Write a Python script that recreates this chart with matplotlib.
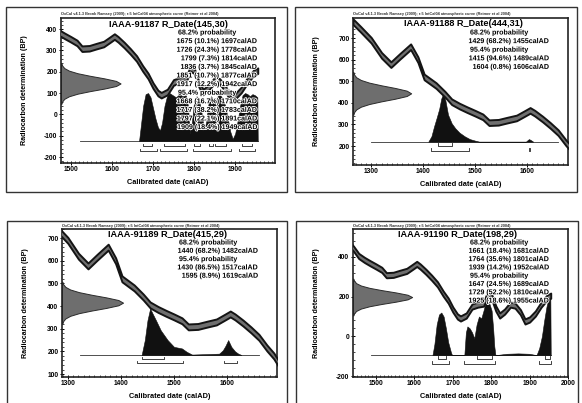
import matplotlib
matplotlib.use('Agg')
import matplotlib.pyplot as plt
import matplotlib.patheffects as pe
from matplotlib.patches import Rectangle
from matplotlib.lines import Line2D
from matplotlib.ticker import MultipleLocator

W, H = 582, 403

plt.rcParams['font.family'] = ['Liberation Sans Narrow', 'Liberation Sans', 'DejaVu Sans']
plt.rcParams['font.weight'] = 'bold'
plt.rcParams['axes.unicode_minus'] = False

header = "OxCal v4.1.3 Bronk Ramsey (2009); r:5 IntCal04 atmospheric curve (Reimer et al 2004)"

# IntCal04 curve (calAD, BP)
cal_year = [1265, 1280, 1300, 1320, 1338, 1355, 1376, 1390, 1402, 1425,
            1442, 1455, 1470, 1485, 1500, 1515, 1527, 1545, 1562, 1580,
            1595, 1606, 1615, 1630, 1645, 1660, 1675, 1688, 1700, 1712,
            1720, 1735, 1750, 1765, 1780, 1792, 1800, 1812, 1822, 1835,
            1850, 1862, 1876, 1888, 1900, 1915, 1930, 1945, 1955]
cal_bp = [776, 740, 690, 620, 577, 615, 660, 600, 520, 480,
          440, 405, 385, 368, 352, 335, 308, 310, 320, 330,
          350, 365, 352, 325, 295, 262, 215, 180, 135, 100,
          90, 105, 150, 160, 165, 215, 205, 140, 105, 125,
          160, 155, 122, 75, 85, 115, 160, 195, 205]
cal_err = 13

# shape of the R_Date curve on the y axis (offset in sigma, relative width)
gauss_z = [-3.2, -2.8, -2.4, -2.0, -1.6, -1.2, -0.8, -0.4, 0,
           0.4, 0.8, 1.2, 1.6, 2.0, 2.4, 2.8, 3.2]
gauss_w = [0.006, 0.02, 0.056, 0.135, 0.278, 0.487, 0.726, 0.923, 1.0,
           0.923, 0.726, 0.487, 0.278, 0.135, 0.056, 0.02, 0.006]

# ---- IAAA-91187
p1_title = "IAAA-91187 R_Date(145,30)"
p1_rdate, p1_sigma = 145, 30
p1_lines = ["68.2% probability",
            "1675 (10.1%) 1697calAD",
            "1726 (24.3%) 1778calAD",
            "1799 (7.3%) 1814calAD",
            "1836 (3.7%) 1845calAD",
            "1851 (10.7%) 1877calAD",
            "1917 (12.2%) 1942calAD",
            "95.4% probability",
            "1668 (16.7%) 1710calAD",
            "1717 (38.2%) 1783calAD",
            "1797 (22.1%) 1891calAD",
            "1909 (18.4%) 1949calAD"]
p1_r68 = [(1675, 1697), (1726, 1778), (1799, 1814), (1836, 1845), (1851, 1877), (1917, 1942)]
p1_r95 = [(1668, 1710), (1717, 1783), (1797, 1891), (1909, 1949)]
p1_dens_year = [1666, 1670, 1676, 1682, 1688, 1694, 1700, 1706, 1712, 1717,
                1722, 1728, 1734, 1740, 1748, 1756, 1764, 1772, 1780, 1785,
                1790, 1795, 1800, 1806, 1812, 1818, 1824, 1829, 1835, 1841,
                1848, 1855, 1862, 1869, 1876, 1882, 1888, 1894, 1900, 1906,
                1912, 1918, 1924, 1930, 1936, 1942, 1948, 1954, 1955]
p1_dens_top = [-125, -60, 40, 95, 100, 80, 30, -20, -60, -75,
               -40, 40, 85, 100, 90, 80, 95, 85, 90, 40,
               -90, -30, 60, 85, 70, 10, -70, -40, 50, 85,
               70, 80, 95, 75, 40, -20, -80, -115, -90, -30,
               40, 90, 100, 95, 85, 95, 90, 80, -125]

# ---- IAAA-91188
p2_title = "IAAA-91188 R_Date(444,31)"
p2_rdate, p2_sigma = 444, 31
p2_lines = ["68.2% probability",
            "1429 (68.2%) 1455calAD",
            "95.4% probability",
            "1415 (94.6%) 1489calAD",
            "1604 (0.8%) 1606calAD"]
p2_r68 = [(1429, 1455)]
p2_r95 = [(1415, 1489), (1604, 1606)]
p2_dens_year = [1410, 1416, 1421, 1426, 1431, 1435, 1439, 1443, 1448, 1455,
                1462, 1470, 1480, 1490, 1500, 1508, 1598, 1602, 1604, 1607, 1612]
p2_dens_top = [220, 245, 290, 330, 372, 420, 444, 410, 345, 305,
               282, 262, 245, 232, 225, 220, 220, 229, 232, 228, 220]

# ---- IAAA-91189
p3_title = "IAAA-91189 R_Date(415,29)"
p3_rdate, p3_sigma = 415, 29
p3_lines = ["68.2% probability",
            "1440 (68.2%) 1482calAD",
            "95.4% probability",
            "1430 (86.5%) 1517calAD",
            "1595 (8.9%) 1619calAD"]
p3_r68 = [(1440, 1482)]
p3_r95 = [(1430, 1517), (1595, 1619)]
p3_dens_year = [1439, 1445, 1450, 1455, 1460, 1466, 1475, 1488, 1500, 1515,
                1524, 1534, 1560, 1585, 1592, 1597, 1602, 1608, 1615, 1621, 1627]
p3_dens_top = [184, 250, 337, 389, 365, 337, 293, 250, 220, 213,
               198, 186, 188, 190, 205, 225, 250, 220, 200, 190, 184]

# ---- IAAA-91190
p4_title = "IAAA-91190 R_Date(198,29)"
p4_rdate, p4_sigma = 198, 29
p4_lines = ["68.2% probability",
            "1661 (18.4%) 1681calAD",
            "1764 (35.6%) 1801calAD",
            "1939 (14.2%) 1952calAD",
            "95.4% probability",
            "1647 (24.5%) 1689calAD",
            "1729 (52.2%) 1810calAD",
            "1925 (18.6%) 1955calAD"]
p4_r68 = [(1661, 1681), (1764, 1801), (1939, 1952)]
p4_r95 = [(1647, 1689), (1729, 1810), (1925, 1955)]
p4_dens_year = [1647, 1652, 1658, 1664, 1670, 1676, 1682, 1688, 1695, 1698,
                1730, 1734, 1738, 1744, 1750, 1756, 1762, 1768, 1774, 1780,
                1786, 1791, 1796, 1801, 1805, 1808, 1811, 1840, 1870, 1900,
                1918, 1925, 1932, 1938, 1944, 1950, 1954, 1955]
p4_dens_top = [-95, -40, 60, 110, 120, 100, 40, -30, -80, -95,
               -95, 20, 50, 40, 20, -10, 60, 100, 90, 130,
               175, 190, 160, 130, 40, -50, -95, -88, -86, -88,
               -95, -60, 0, 80, 150, 195, 200, -95]

panels = [
    dict(frame=(61, 18, 275, 163), box=(6, 7, 287, 192), title=p1_title, title_xy=(168, 24.5),
         rdate=p1_rdate, sigma=p1_sigma, gwidth=145, xlim=(1476, 1997), ylim=(-228, 452),
         xstep=100, ystep=100, yminor=20, lines=p1_lines, r68=p1_r68, r95=p1_r95,
         dy=p1_dens_year, dt=p1_dens_top, base=-125, span=(1522, 1955), y68=-150, y95=-172,
         first=15, sp=8.6),
    dict(frame=(353, 18, 568, 165), box=(295, 7, 577, 192), title=p2_title, title_xy=(463, 24),
         rdate=p2_rdate, sigma=p2_sigma, gwidth=112, xlim=(1265, 1679), ylim=(112, 793),
         xstep=100, ystep=100, yminor=20, lines=p2_lines, r68=p2_r68, r95=p2_r95,
         dy=p2_dens_year, dt=p2_dens_top, base=220, span=(1300, 1660), y68=202, y95=179,
         first=15, sp=8.6),
    dict(frame=(62, 229, 277, 377), box=(7, 221, 287, 410), title=p3_title, title_xy=(167, 235),
         rdate=p3_rdate, sigma=p3_sigma, gwidth=115, xlim=(1289, 1694), ylim=(87, 740),
         xstep=100, ystep=100, yminor=20, lines=p3_lines, r68=p3_r68, r95=p3_r95,
         dy=p3_dens_year, dt=p3_dens_top, base=184, span=(1323, 1660), y68=165, y95=147,
         first=14, sp=8.3),
    dict(frame=(353, 229, 568, 377), box=(296, 221, 578, 410), title=p4_title, title_xy=(458, 235),
         rdate=p4_rdate, sigma=p4_sigma, gwidth=154, xlim=(1440, 2000), ylim=(-205, 541),
         xstep=100, ystep=200, yminor=40, lines=p4_lines, r68=p4_r68, r95=p4_r95,
         dy=p4_dens_year, dt=p4_dens_top, base=-95, span=(1486, 1955), y68=-112, y95=-137,
         first=14, sp=8.3),
]


def fx(x):
    return x / W


def fy(y):
    return 1 - y / H


def bracket(ax, a, b, y, h):
    ax.plot([a, a, b, b], [y + h, y, y, y + h], color='#222', lw=0.6, zorder=2)


fig = plt.figure(figsize=(W / 100, H / 100), dpi=100)
halo = [pe.withStroke(linewidth=1.3, foreground='white')]

for p in panels:
    l, t, r, b = p['frame']
    x0, y0, x1, y1 = p['box']
    fig.add_artist(Rectangle((fx(x0), fy(y1)), (x1 - x0) / W, (y1 - y0) / H,
                             transform=fig.transFigure, fill=False, lw=1.0, ec='#333'))
    ax = fig.add_axes([fx(l), fy(b), (r - l) / W, (b - t) / H])
    ax.set_xlim(p['xlim'])
    ax.set_ylim(p['ylim'])
    yspan = p['ylim'][1] - p['ylim'][0]
    th = yspan * 2.2 / (b - t)

    lo = [v - cal_err for v in cal_bp]
    hi = [v + cal_err for v in cal_bp]
    ax.fill_between(cal_year, lo, hi, facecolor='#6f6f6f', edgecolor='#141414', lw=1.4, zorder=3)

    gy = [p['rdate'] + z * p['sigma'] for z in gauss_z]
    gx = [p['xlim'][0] + w * p['gwidth'] for w in gauss_w]
    ax.fill_betweenx(gy, p['xlim'][0], gx, facecolor='#6e6e6e', edgecolor='#2a2a2a', lw=0.7, zorder=2)

    ax.fill_between(p['dy'], p['base'], p['dt'], facecolor='#111', edgecolor='#111', lw=0.4, zorder=2)
    ax.plot(p['span'], [p['base'], p['base']], color='#333', lw=0.6, zorder=1)
    for a, c in p['r68']:
        bracket(ax, a, c, p['y68'], th)
    for a, c in p['r95']:
        bracket(ax, a, c, p['y95'], th)

    ax.xaxis.set_major_locator(MultipleLocator(p['xstep']))
    ax.xaxis.set_minor_locator(MultipleLocator(10))
    ax.yaxis.set_major_locator(MultipleLocator(p['ystep']))
    ax.yaxis.set_minor_locator(MultipleLocator(p['yminor']))
    ax.tick_params(which='major', direction='inout', length=3, width=0.7, labelsize=4.8, pad=1)
    ax.tick_params(which='minor', direction='in', length=1.4, width=0.5)
    for s in ax.spines.values():
        s.set_linewidth(1.2)
        s.set_color('#222')

    fig.text(fx(l), fy(t - 3.5), header, fontsize=2.8, ha='left', va='center', color='#333')
    fig.add_artist(Line2D([fx(l), fx(l + 172)], [fy(t - 1.5)] * 2, lw=0.5, color='#444'))
    tx, ty = p['title_xy']
    fig.text(fx(tx), fy(ty), p['title'], fontsize=6.6, ha='center', va='center', zorder=6)
    for i, s in enumerate(p['lines']):
        yy = fy(t + p['first'] + i * p['sp'])
        if s.endswith('probability'):
            fig.text(fx(l + 117), yy, s, fontsize=5.1, ha='left', va='center', path_effects=halo, zorder=6)
        else:
            fig.text(fx(l + 197), yy, s, fontsize=5.1, ha='right', va='center', path_effects=halo, zorder=6)
    fig.text(fx((l + r) / 2), fy(b + 20), 'Calibrated date (calAD)', fontsize=5.3, ha='center', va='center')
    fig.text(fx(l - 36), fy((t + b) / 2), 'Radiocarbon determination (BP)', fontsize=5.1,
             rotation=90, ha='center', va='center')

fig.savefig('out.png', dpi=100)
